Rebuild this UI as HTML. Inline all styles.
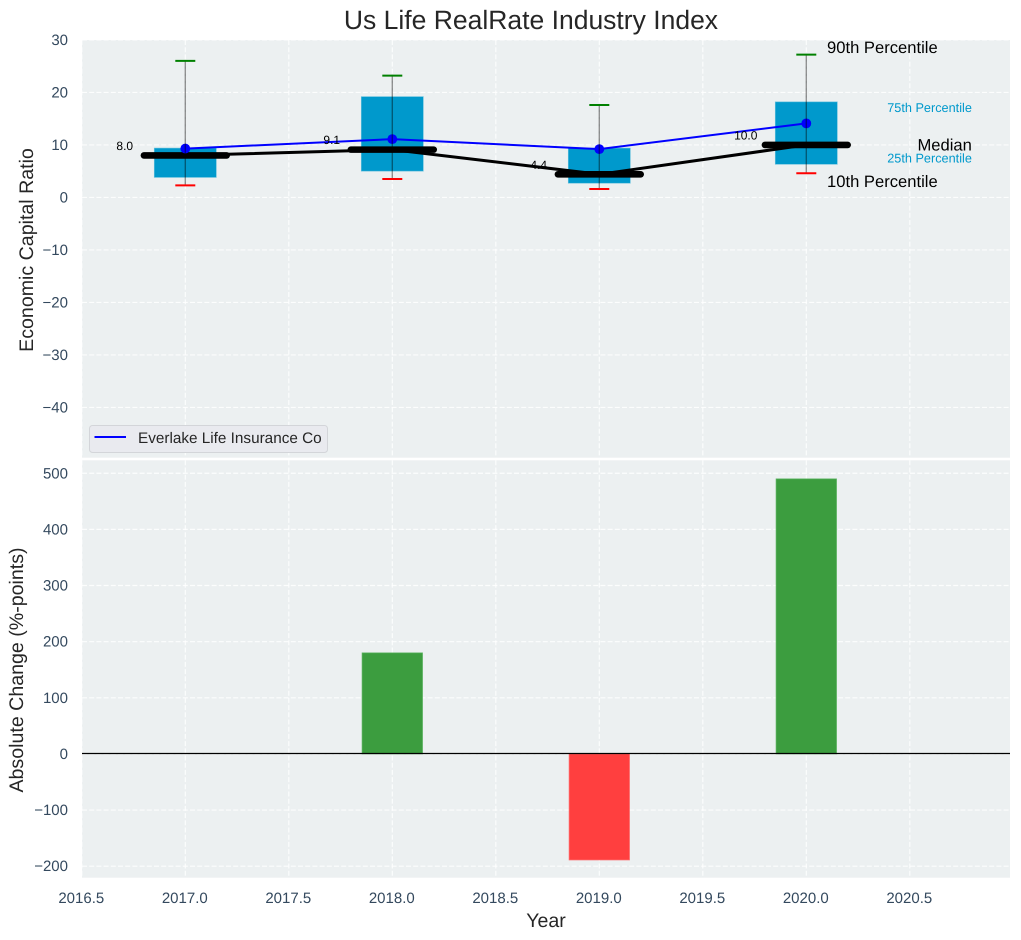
<!DOCTYPE html>
<html lang="en">
<head>
<meta charset="utf-8">
<title>Us Life RealRate Industry Index</title>
<style>
html,body{margin:0;padding:0;background:#fff;width:1021px;height:940px;overflow:hidden}
svg{display:block;font-family:"Liberation Sans",Arial,sans-serif;text-rendering:geometricPrecision}
.tick{font-size:15px;fill:#34495e}
.axt{font-size:19.6px;fill:#262626}
</style>
</head>
<body>
<svg id="chart" xmlns="http://www.w3.org/2000/svg" width="1021" height="940" viewBox="0 0 1021 940">
<rect x="82" y="40" width="928" height="417.7" fill="#ecf0f1"/>
<rect x="82" y="460.3" width="928" height="417.4" fill="#ecf0f1"/>
<g id="grid"></g>
<g id="ticks"></g>
<g id="marks"></g>
<text x="531" y="29" text-anchor="middle" font-size="26.5" fill="#262626">Us Life RealRate Industry Index</text>
<text class="axt" x="0" y="0" text-anchor="middle" transform="translate(33,250) rotate(-90)">Economic Capital Ratio</text>
<text class="axt" x="0" y="0" text-anchor="middle" transform="translate(23,670) rotate(-90)">Absolute Change (%-points)</text>
<text class="axt" x="546" y="927" text-anchor="middle">Year</text>
<g>
<rect x="89.5" y="425.5" width="238" height="27" rx="3" fill="#e9eaef" stroke="#d3d5d9" stroke-width="1"/>
<line x1="94.5" x2="126" y1="437" y2="437" stroke="#0000ff" stroke-width="2"/>
<text x="138" y="443" font-size="15.3" fill="#262626">Everlake Life Insurance Co</text>
</g>
</svg>
<script>
var years = [2017, 2018, 2019, 2020];
var p90 = [26, 23.2, 17.6, 27.2];
var p75 = [9.4, 19.2, 9.4, 18.2];
var medians = [8.0, 9.1, 4.4, 10.0];
var p25 = [3.8, 5.0, 2.7, 6.3];
var p10 = [2.3, 3.5, 1.6, 4.6];
var company = [9.3, 11.1, 9.2, 14.1];
var changeYears = [2018, 2019, 2020];
var changes = [180, -189, 490];
var xTicks = [2016.5, 2017, 2017.5, 2018, 2018.5, 2019, 2019.5, 2020, 2020.5];
var topTicks = [30, 20, 10, 0, -10, -20, -30, -40];
var bottomTicks = [500, 400, 300, 200, 100, 0, -100, -200];

function X(v){ return 185.3 + (v - 2017) * 207; }
function YT(v){ return 197.4 - v * 5.25; }
function YB(v){ return 753.9 - v * 0.5613; }

var NS = 'http://www.w3.org/2000/svg';
function el(parent, tag, attrs, txt){
  var e = document.createElementNS(NS, tag);
  for (var k in attrs) e.setAttribute(k, attrs[k]);
  if (txt !== undefined) e.textContent = txt;
  parent.appendChild(e);
  return e;
}
var gGrid = document.getElementById('grid');
var gTicks = document.getElementById('ticks');
var gMarks = document.getElementById('marks');
var gridStyle = {stroke:'#ffffff','stroke-width':1.15,'stroke-opacity':0.85,'stroke-dasharray':'5 2.2',fill:'none'};
function withGrid(o){ for (var k in gridStyle) o[k] = gridStyle[k]; return o; }
var e;

xTicks.forEach(function(t){
  e = el(gGrid, 'line', withGrid({x1:X(t),x2:X(t),y1:40,y2:457.7}));
  
  
  e = el(gGrid, 'line', withGrid({x1:X(t),x2:X(t),y1:460.3,y2:877.7}));
  
  
  e = el(gTicks, 'text', {'class':'tick',x:X(t)-0.5,y:903,'text-anchor':'middle'}, t.toFixed(1));
  
  
});
topTicks.forEach(function(t){
  e = el(gGrid, 'line', withGrid({x1:82,x2:1010,y1:YT(t),y2:YT(t)}));
  
  
  e = el(gTicks, 'text', {'class':'tick',x:68,y:YT(t)+5,'text-anchor':'end'}, String(t).replace('-', '\u2212'));
  
  
});
bottomTicks.forEach(function(t){
  e = el(gGrid, 'line', withGrid({x1:82,x2:1010,y1:YB(t),y2:YB(t)}));
  
  
  e = el(gTicks, 'text', {'class':'tick',x:68,y:YB(t)+5,'text-anchor':'end'}, String(t).replace('-', '\u2212'));
  
  
});

/* percentile boxes */
years.forEach(function(y, i){
  e = el(gMarks, 'rect', {x:X(y-0.15),y:YT(p75[i]),width:X(y+0.15)-X(y-0.15),height:YT(p25[i])-YT(p75[i]),fill:'#0099cc',stroke:'#6cc3de','stroke-width':0.6});
  
  
});

/* median connecting line */
e = el(gMarks, 'polyline', {points:years.map(function(y,i){return X(y)+','+YT(medians[i]);}).join(' '),fill:'none',stroke:'#000000','stroke-width':3});



/* thick median bars */
years.forEach(function(y, i){
  e = el(gMarks, 'line', {x1:X(y-0.2),x2:X(y+0.2),y1:YT(medians[i]),y2:YT(medians[i]),stroke:'#000000','stroke-width':6.6,'stroke-linecap':'round'});
  
  
});

/* company line and markers */
e = el(gMarks, 'polyline', {points:years.map(function(y,i){return X(y)+','+YT(company[i]);}).join(' '),fill:'none',stroke:'#0000ff','stroke-width':2});


years.forEach(function(y, i){
  e = el(gMarks, 'circle', {cx:X(y),cy:YT(company[i]),r:4.9,fill:'#0000ff'});
  
  
});

/* whiskers */
years.forEach(function(y, i){
  e = el(gMarks, 'line', {x1:X(y),x2:X(y),y1:YT(p90[i]),y2:YT(p10[i]),stroke:'#000000','stroke-opacity':0.42,'stroke-width':1.4});
  
  
  e = el(gMarks, 'line', {x1:X(y)-10,x2:X(y)+10,y1:YT(p90[i]),y2:YT(p90[i]),stroke:'#008000','stroke-width':2});
  
  
  e = el(gMarks, 'line', {x1:X(y)-10,x2:X(y)+10,y1:YT(p10[i]),y2:YT(p10[i]),stroke:'#ff0000','stroke-width':2});
  
  
  e = el(gMarks, 'text', {x:X(y-0.29)-0.5,y:YT(medians[i])-5.5,'text-anchor':'middle','font-size':12,fill:'#000000'}, medians[i].toFixed(1));
  
  
});

/* change bars */
changeYears.forEach(function(y, i){
  var v = changes[i];
  var top = Math.min(YB(v), YB(0));
  var h = Math.abs(YB(v) - YB(0));
  e = el(gMarks, 'rect', {x:X(y-0.146),y:top,width:X(y+0.146)-X(y-0.146),height:h,fill:v >= 0 ? '#3c9d3f' : '#ff3f3f',stroke:v >= 0 ? '#5cb360' : '#ff6f6f','stroke-width':0.7});
  
  
});
e = el(gMarks, 'line', {x1:82,x2:1010,y1:753.5,y2:753.5,stroke:'#000000','stroke-width':1.3});



/* percentile annotations, anchored to the last year */
var n = years.length - 1;
var lx = X(years[n] + 0.1), rx = X(years[n] + 0.8);
e = el(gMarks, 'text', {x:lx,y:YT(p90[n])-1.5,'font-size':16.6,fill:'#000000'}, '90th Percentile');


e = el(gMarks, 'text', {x:lx,y:YT(p10[n])+13.5,'font-size':16.6,fill:'#000000'}, '10th Percentile');


e = el(gMarks, 'text', {x:rx,y:YT(medians[n])+5.5,'font-size':16.6,fill:'#000000','text-anchor':'end'}, 'Median');


e = el(gMarks, 'text', {x:rx,y:YT(p75[n])+10,'font-size':12.7,fill:'#0099cc','text-anchor':'end'}, '75th Percentile');


e = el(gMarks, 'text', {x:rx,y:YT(p25[n])-2,'font-size':12.7,fill:'#0099cc','text-anchor':'end'}, '25th Percentile');


</script>
</body>
</html>
